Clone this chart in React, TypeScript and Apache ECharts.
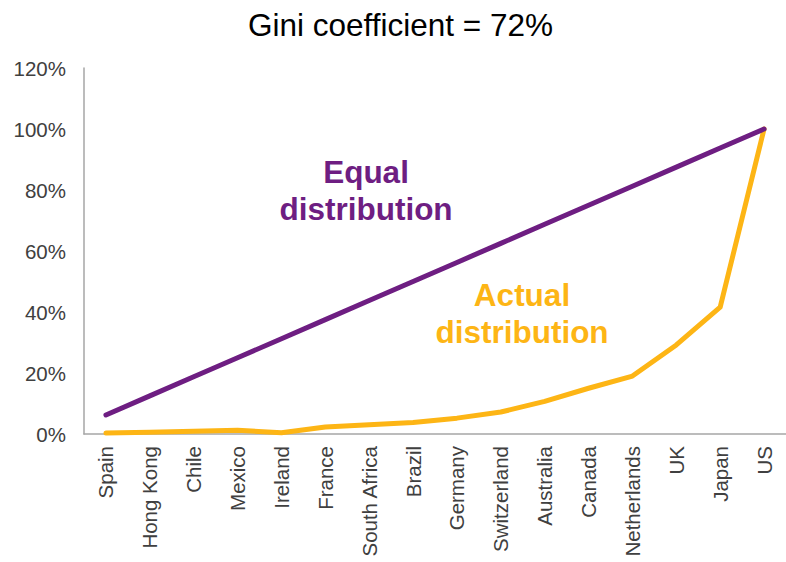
import React, { useEffect, useRef } from "react";
import * as echarts from "echarts";

const countries = ["Spain", "Hong Kong", "Chile", "Mexico", "Ireland", "France", "South Africa", "Brazil", "Germany", "Switzerland", "Australia", "Canada", "Netherlands", "UK", "Japan", "US"];
const equalDistribution = [6.25, 12.5, 18.75, 25, 31.25, 37.5, 43.75, 50, 56.25, 62.5, 68.75, 75, 81.25, 87.5, 93.75, 100];
const actualDistribution = [0.3, 0.6, 0.9, 1.2, 0.4, 2.3, 3.0, 3.8, 5.2, 7.2, 10.7, 15.0, 19.0, 29.2, 41.6, 100];
const yTicks = [0, 20, 40, 60, 80, 100, 120];

const PURPLE = "#6E1E82";
const ORANGE = "#FDB515";

export default function App() {
  const ref = useRef<HTMLDivElement>(null);
  useEffect(() => {
    if (!ref.current) return;
    const chart = echarts.init(ref.current, null, { renderer: "svg" });
    chart.setOption({
      animation: false,
      backgroundColor: "#ffffff",
      title: {
        text: "Gini coefficient = 72%",
        left: 243,
        top: 4,
        textStyle: { fontFamily: "Liberation Sans", fontSize: 31.5, fontWeight: "normal", color: "#000000" },
      },
      grid: { left: 84, top: 68, height: 366, width: 710, containLabel: false },
      xAxis: {
        type: "category",
        data: countries,
        boundaryGap: true,
        axisLine: { lineStyle: { color: "#A6A6A6", width: 1.5 } },
        axisTick: { show: false },
        axisLabel: {
          rotate: 90,
          interval: 0,
          margin: 12,
          fontFamily: "Liberation Sans",
          fontSize: 20.5,
          color: "#404040",
        },
      },
      yAxis: {
        type: "value",
        min: yTicks[0],
        max: yTicks[yTicks.length - 1],
        interval: 20,
        axisLine: { show: true, lineStyle: { color: "#A6A6A6", width: 1.5 } },
        axisTick: { show: false },
        splitLine: { show: false },
        axisLabel: {
          formatter: "{value}%",
          margin: 18,
          fontFamily: "Liberation Sans",
          fontSize: 20.5,
          color: "#404040",
        },
      },
      series: [
        {
          name: "Equal distribution",
          type: "line",
          data: equalDistribution,
          symbol: "none",
          lineStyle: { color: PURPLE, width: 5, cap: "round" },
          z: 3,
        },
        {
          name: "Actual distribution",
          type: "line",
          data: actualDistribution,
          symbol: "none",
          lineStyle: { color: ORANGE, width: 5, cap: "round", join: "round" },
          z: 2,
        },
      ],
      graphic: [
        {
          type: "text",
          x: 366,
          y: 190,
          style: {
            text: "Equal\ndistribution",
            fill: PURPLE,
            font: "bold 31.5px 'Liberation Sans'",
            align: "center",
            verticalAlign: "middle",
            lineHeight: 37,
          },
        },
        {
          type: "text",
          x: 522,
          y: 313,
          style: {
            text: "Actual\ndistribution",
            fill: ORANGE,
            font: "bold 31.5px 'Liberation Sans'",
            align: "center",
            verticalAlign: "middle",
            lineHeight: 37,
          },
        },
      ],
    });
    return () => chart.dispose();
  }, []);
  return <div ref={ref} style={{ width: 786, height: 562, position: "absolute", left: 0, top: 0 }} />;
}
